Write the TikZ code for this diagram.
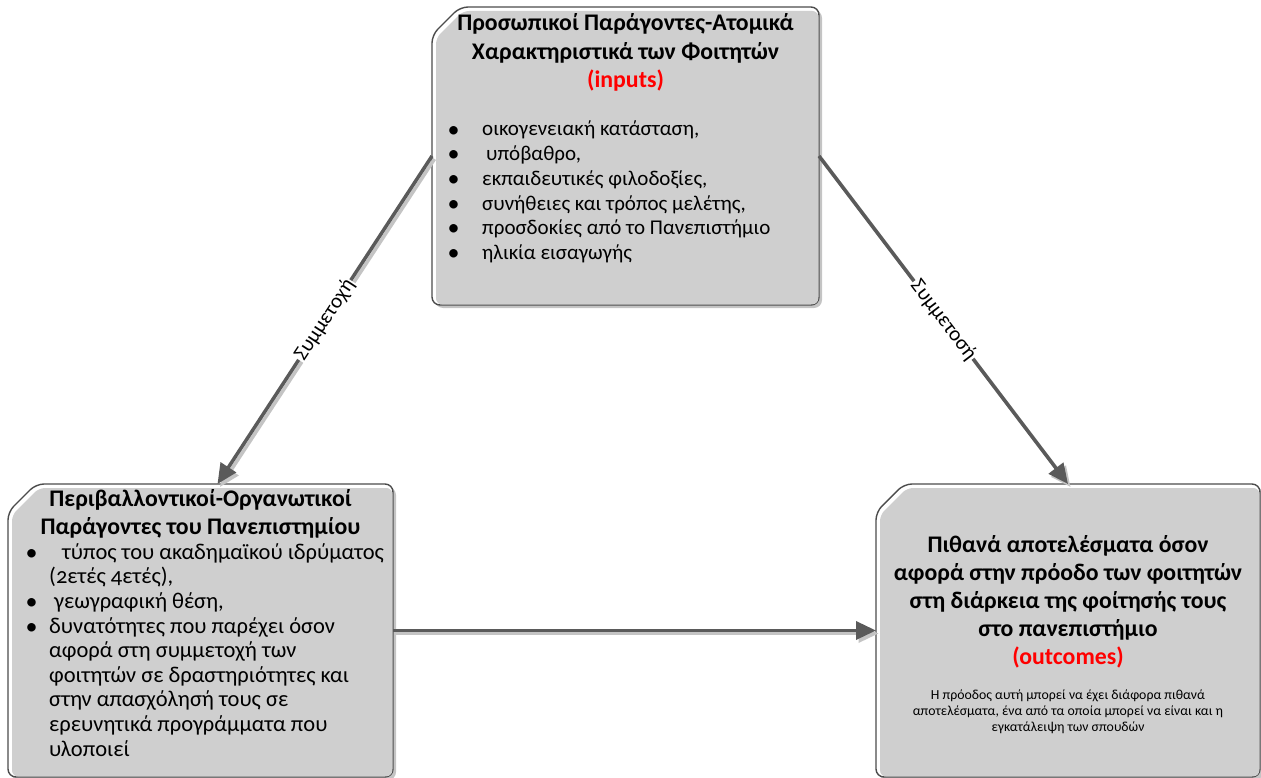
\documentclass[tikz,border=0pt]{standalone}
\usepackage{fontspec}
\setmainfont{Carlito}
\usetikzlibrary{arrows.meta,calc}

\definecolor{boxfill}{HTML}{CFCFCF}
\definecolor{boxline}{HTML}{4C4C4C}
\definecolor{arrowgray}{HTML}{5A5A5A}
\definecolor{shadowgray}{HTML}{C4C4C4}

% a slightly larger list bullet
\newcommand\bulsym{\hspace*{-1.5pt}\raisebox{-1pt}{\fontsize{24}{24}\selectfont\textbullet}}

% box with a cut top-left corner, light inner fill and a drop shadow
\newcommand\chambox[1]{%
  \fill[shadowgray, rounded corners=8pt]
    ($(#1.north west)+(3,31)$) -- ($(#1.north west)+(31,3)$) -- ($(#1.north east)+(3,3)$)
    -- ($(#1.south east)+(3,3)$) -- ($(#1.south west)+(3,3)$) -- cycle;
  \draw[boxline, fill=white, line width=1.4pt, rounded corners=8pt]
    ($(#1.north west)+(0,28)$) -- ($(#1.north west)+(28,0)$) -- (#1.north east)
    -- (#1.south east) -- (#1.south west) -- cycle;
  \fill[boxfill, rounded corners=6pt]
    ($(#1.north west)+(4,31)$) -- ($(#1.north west)+(31,4)$) -- ($(#1.north east)+(-0.7,4)$)
    -- ($(#1.south east)+(-0.7,-0.7)$) -- ($(#1.south west)+(4,-0.7)$) -- cycle;
}

\tikzset{
  area/.style={inner sep=0pt, outer sep=0pt, draw=none},
  titletext/.style={inner sep=0pt, align=center, font=\fontsize{23.8}{28.2}\selectfont\bfseries},
  listtext/.style={inner sep=0pt, align=left, font=\fontsize{21}{24.7}\selectfont},
  widelist/.style={inner sep=0pt, align=left, font=\fontsize{22.5}{24.6}\selectfont},
  smalltext/.style={inner sep=0pt, align=center, font=\fontsize{13.8}{16.4}\selectfont},
  tip/.style={-{Triangle[length=20pt,width=18pt]}},
  conn/.style={draw=arrowgray, line width=3.5pt, tip},
  connshadow/.style={draw=shadowgray, line width=3.5pt, tip, transform canvas={shift={(2.5pt,-3pt)}}},
  lbl/.style={midway, sloped, fill=white, inner sep=1pt, font=\fontsize{21}{24}\selectfont}
}

\begin{document}
\begin{tikzpicture}[x=1pt,y=-1pt]
\useasboundingbox (0,0) rectangle (1261,778);

% box areas
\node[area, minimum width=387pt, minimum height=298pt] (top) at (625.5,156) {};
\node[area, minimum width=385pt, minimum height=293pt] (left) at (200.5,630.5) {};
\node[area, minimum width=384pt, minimum height=293pt] (right) at (1068,630.5) {};

\chambox{top}
\chambox{left}
\chambox{right}

% connector shadows
\draw[connshadow] (top.west) -- ([xshift=17pt]left.north);
\draw[connshadow] (top.east) -- (right.north);
\draw[connshadow] (left.east) -- (right.west);

% connectors
\draw[conn] (top.west) -- ([xshift=17pt]left.north) node[lbl] {Συμμετοχή};
\draw[conn] (top.east) -- (right.north) node[lbl] {Συμμετοσή};
\draw[conn] (left.east) -- (right.west);

% personal factors (base anchor = baseline of the last line)
\node[titletext, anchor=base] (toptitle) at (625.5,87.4)
  {Προσωπικοί Παράγοντες-Ατομικά\\Χαρακτηριστικά των Φοιτητών\\\textcolor{red}{(inputs)}};
\node[listtext, anchor=base west] (toplist) at (449,259.5) {%
  \makebox[33pt][l]{\bulsym}οικογενειακή κατάσταση,\\
  \makebox[33pt][l]{\bulsym}\hspace{4pt}υπόβαθρο,\\
  \makebox[33pt][l]{\bulsym}εκπαιδευτικές φιλοδοξίες,\\
  \makebox[33pt][l]{\bulsym}συνήθειες και τρόπος μελέτης,\\
  \makebox[33pt][l]{\bulsym}προσδοκίες από το Πανεπιστήμιο\\
  \makebox[33pt][l]{\bulsym}ηλικία εισαγωγής};

% environmental factors
\node[titletext, anchor=base] (lefttitle) at (200.5,534.2)
  {Περιβαλλοντικοί-Οργανωτικοί\\Παράγοντες του Πανεπιστημίου};
\node[widelist, anchor=base west] (leftlist) at (27,756) {%
  \makebox[22pt][l]{\bulsym}\hspace{13pt}τύπος του ακαδημαϊκού ιδρύματος\\
  \hspace*{22pt}({\addfontfeatures{Numbers=OldStyle}2}ετές {\addfontfeatures{Numbers=OldStyle}4}ετές),\\
  \makebox[22pt][l]{\bulsym}\hspace{5pt}γεωγραφική θέση,\\
  \makebox[22pt][l]{\bulsym}δυνατότητες που παρέχει όσον\\
  \hspace*{22pt}αφορά στη συμμετοχή των\\
  \hspace*{22pt}φοιτητών σε δραστηριότητες και\\
  \hspace*{22pt}στην απασχόλησή τους σε\\
  \hspace*{22pt}ερευνητικά προγράμματα που\\
  \hspace*{22pt}υλοποιεί};

% outcomes
\node[titletext, anchor=base] (righttitle) at (1068,664.8)
  {Πιθανά αποτελέσματα όσον\\αφορά στην πρόοδο των φοιτητών\\στη διάρκεια της φοίτησής τους\\στο πανεπιστήμιο\\\textcolor{red}{(outcomes)}};
\node[smalltext, anchor=base] (rightnote) at (1068,731.8)
  {Η πρόοδος αυτή μπορεί να έχει διάφορα πιθανά\\αποτελέσματα, ένα από τα οποία μπορεί να είναι και η\\εγκατάλειψη των σπουδών};
\end{tikzpicture}
\end{document}
